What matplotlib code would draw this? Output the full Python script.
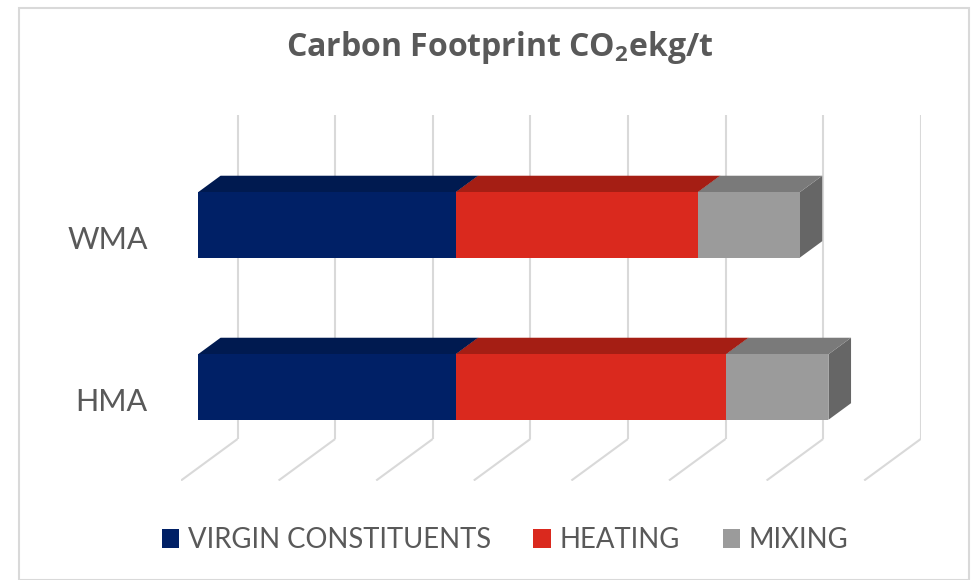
import matplotlib.pyplot as plt
from matplotlib.patches import Polygon, Rectangle, Patch

# data
categories = ["HMA", "WMA"]
series = ["VIRGIN CONSTITUENTS", "HEATING", "MIXING"]
virgin = [26.4, 26.4]
heating = [27.7, 24.8]
mixing = [10.5, 10.45]
values = [virgin, heating, mixing]
grid_vals = [0, 10, 20, 30, 40, 50, 60, 70]

front_col = ["#002066", "#DA291E", "#9B9B9B"]
top_col = ["#001A50", "#A51E14", "#7A7A7A"]
side_col = ["#00164A", "#8E1A12", "#666666"]
grid_col = "#D9D9D9"
text_col = "#595959"

plt.rcParams['font.family'] = ['Lato', 'DejaVu Sans']

W, H = 971, 580
fig = plt.figure(figsize=(W / 100, H / 100), dpi=100)

# oblique projection: full depth moves DX value-units right and DY category-units up
DX = 5.79
DY = 0.256
d0, d1 = 0.3, 0.7   # bar occupies middle of the depth
bar_h = 0.404

vmax = grid_vals[-1]
ax = fig.add_axes([181 / W, (H - 480.5) / H, 739.7 / W, 365.5 / H])
ax.set_xlim(0, vmax + DX)
ax.set_ylim(0, len(categories) + DY)
for s in ax.spines.values():
    s.set_visible(False)
ax.set_xticks([])
ax.set_yticks([i + 0.5 for i in range(len(categories))])
ax.set_yticklabels(categories, fontsize=22, color=text_col)
ax.tick_params(axis='y', length=0, pad=24)


def P(v, y, d):
    return (v + d * DX, y + d * DY)


# back wall and floor gridlines
for g in grid_vals:
    x0, y0 = P(g, 0, 1)
    x1, y1 = P(g, len(categories), 1)
    ax.plot([x0, x1], [y0, y1], color=grid_col, lw=1.5, zorder=1, solid_capstyle='butt')
    x2, y2 = P(g, 0, 0)
    ax.plot([x0, x2], [y0, y2], color=grid_col, lw=1.5, zorder=1, solid_capstyle='butt')

# 3d stacked bars
for i, cat in enumerate(categories):
    yb = i + 0.5 - bar_h / 2
    yt = i + 0.5 + bar_h / 2
    left = 0
    for j in range(len(series)):
        v = values[j][i]
        right = left + v
        side = [P(right, yb, d0), P(right, yb, d1), P(right, yt, d1), P(right, yt, d0)]
        top = [P(left, yt, d0), P(right, yt, d0), P(right, yt, d1), P(left, yt, d1)]
        front = [P(left, yb, d0), P(right, yb, d0), P(right, yt, d0), P(left, yt, d0)]
        z = 2 + j
        ax.add_patch(Polygon(side, closed=True, facecolor=side_col[j], edgecolor='none', zorder=z))
        ax.add_patch(Polygon(top, closed=True, facecolor=top_col[j], edgecolor='none', zorder=z))
        ax.add_patch(Polygon(front, closed=True, facecolor=front_col[j], edgecolor='none', zorder=z))
        left = right

# title
fig.text(500 / W, 1 - 47 / H, r"Carbon Footprint CO$\mathregular{_2}$ekg/t",
         ha='center', va='center', fontsize=23, fontweight='bold', color=text_col,
         family=['Open Sans', 'DejaVu Sans'])

# legend
handles = [Patch(facecolor=front_col[j], edgecolor='none', label=series[j]) for j in range(len(series))]
fig.legend(handles=handles, loc='center', bbox_to_anchor=(505 / W, 1 - 540 / H), ncol=3,
           frameon=False, fontsize=19.8, labelcolor=text_col, handlelength=0.65, handleheight=0.65,
           handletextpad=0.3, columnspacing=1.55)

# chart border
fig.patches.append(Rectangle((19 / W, 0), (969 - 19) / W, (H - 8) / H, transform=fig.transFigure,
                             fill=False, edgecolor=grid_col, lw=1.5))

fig.savefig("out.png", dpi=100)
